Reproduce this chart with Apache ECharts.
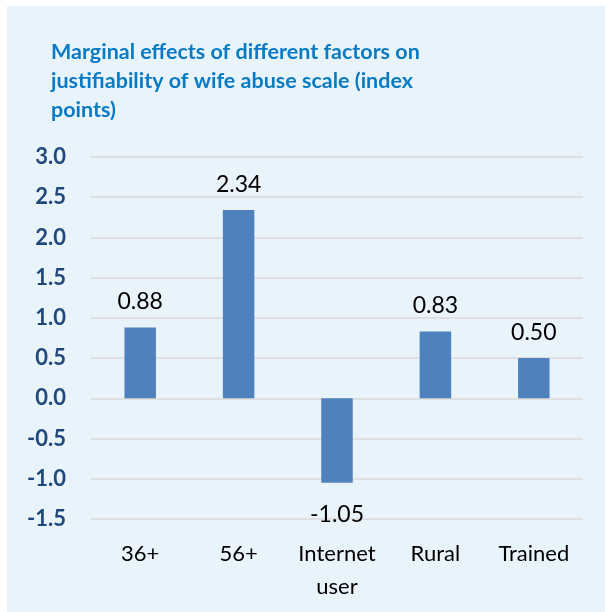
<!DOCTYPE html>
<html>
<head>
<meta charset="utf-8">
<script src="https://cdn.jsdelivr.net/npm/echarts@6/dist/echarts.min.js"></script>
<style>
html,body{margin:0;padding:0;background:#fff;}
#c{position:absolute;left:7px;top:6px;width:598px;height:606px;}
</style>
</head>
<body>
<div id="c"></div>
<script>
var categories = ['36+', '56+', 'Internet\nuser', 'Rural', 'Trained'];
var values = [0.88, 2.34, -1.05, 0.83, 0.50];
var yTicks = { min: -1.5, max: 3.0, interval: 0.5 };
var titleText = 'Marginal effects of different factors on\njustifiability of wife abuse scale (index\npoints)';

var chart = echarts.init(document.getElementById('c'));
chart.setOption({
  backgroundColor: '#E9F3FA',
  animation: false,
  title: {
    text: titleText,
    left: 39, top: 27,
    textStyle: { color: '#0A7BC2', fontFamily: 'Lato', fontWeight: 'bold', fontSize: 21.5, lineHeight: 29 }
  },
  grid: { left: 84, right: 22, top: 151, bottom: 93 },
  xAxis: {
    type: 'category',
    data: categories,
    axisLine: { show: false, onZero: false },
    axisTick: { show: false },
    axisLabel: { color: '#000', fontFamily: 'Lato', fontSize: 22, lineHeight: 33, margin: 18, interval: 0 }
  },
  yAxis: {
    type: 'value',
    min: yTicks.min, max: yTicks.max, interval: yTicks.interval,
    axisLine: { show: false },
    axisTick: { show: false },
    splitLine: { lineStyle: { color: '#D9D9D9', width: 1.5 } },
    axisLabel: {
      color: '#1F497D', fontFamily: 'Lato', fontWeight: 'bold', fontSize: 22, margin: 25,
      formatter: function (v) { return v.toFixed(1); }
    }
  },
  series: [{
    type: 'bar',
    data: values.map(function (v) {
      return v < 0 ? { value: v, label: { distance: 20 } } : v;
    }),
    barWidth: '32%',
    itemStyle: { color: '#4F81BD' },
    label: {
      show: true,
      position: 'outside',
      distance: 14,
      color: '#000', fontFamily: 'Lato', fontSize: 23,
      formatter: function (p) { return p.value.toFixed(2); }
    }
  }]
});
</script>
</body>
</html>
